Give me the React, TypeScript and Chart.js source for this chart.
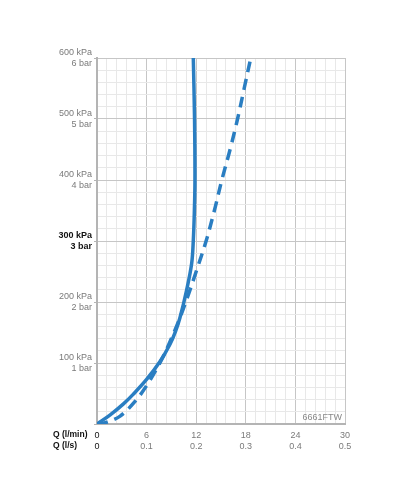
import React, { useEffect, useRef } from "react";
import { Chart, registerables } from "chart.js";

Chart.register(...registerables);

// Solid curve: Q (l/min) vs pressure (kPa)
const solidQ = [0, 1.6, 3.2, 4.4, 6.0, 7.6, 8.8, 9.5, 10.05, 10.85, 11.45, 11.65, 11.77, 11.85, 11.8, 11.65];
const solidP = [0, 15, 33, 49, 73, 102, 130, 152, 175, 220, 263, 301, 345, 400, 500, 600];

// Dashed curve
const dashQ = [0, 1.0, 2.8, 4.6, 6.1, 7.8, 8.8, 10.0, 11.0, 12.0, 13.2, 14.2, 15.1, 16.1, 17.0, 17.8, 18.6];
const dashP = [0, 2, 13, 37, 65, 105, 134, 173, 210, 250, 300, 350, 400, 450, 500, 550, 600];

// Tick labels
const xLpm = ["0", "6", "12", "18", "24", "30"];
const xLps = ["0", "0.1", "0.2", "0.3", "0.4", "0.5"];
const yKpa = ["", "100 kPa", "200 kPa", "300 kPa", "400 kPa", "500 kPa", "600 kPa"];
const yBar = ["", "1 bar", "2 bar", "3 bar", "4 bar", "5 bar", "6 bar"];

const X_MAX = 30;
const Y_MAX = 600;
const X_MINOR = 26; // 0..30 every 1.2
const Y_MINOR = 31; // 0..600 every 20

const FONT = "'Liberation Sans', Arial, sans-serif";
const BLUE = "#2a7ec2";
const GRAY = "#7a7a7a";

export default function App() {
  const ref = useRef<HTMLCanvasElement | null>(null);

  useEffect(() => {
    if (!ref.current) return;
    const toPts = (xs: number[], ys: number[]) => xs.map((x, i) => ({ x, y: ys[i] }));

    const overlay = {
      id: "overlay",
      afterDraw(chart: any) {
        const { ctx, chartArea } = chart;
        ctx.save();
        ctx.font = `bold 8.5px ${FONT}`;
        ctx.fillStyle = "#111";
        ctx.textAlign = "left";
        ctx.textBaseline = "middle";
        ctx.fillText("Q (l/min)", 53, chartArea.bottom + 11);
        ctx.fillText("Q (l/s)", 53, chartArea.bottom + 22);
        ctx.font = `9px ${FONT}`;
        ctx.fillStyle = "#888";
        ctx.textAlign = "right";
        ctx.fillText("6661FTW", chartArea.right - 3, chartArea.bottom - 6);
        ctx.restore();
      },
    };

    const chart = new Chart(ref.current, {
      type: "scatter",
      data: {
        datasets: [
          {
            data: toPts(solidQ, solidP),
            showLine: true,
            borderColor: BLUE,
            borderWidth: 3.5,
            pointRadius: 0,
            tension: 0.35,
          },
          {
            data: toPts(dashQ, dashP),
            showLine: true,
            borderColor: BLUE,
            borderWidth: 3.5,
            borderDash: [11, 7],
            pointRadius: 0,
            tension: 0.35,
          },
        ],
      },
      options: {
        animation: false,
        responsive: true,
        maintainAspectRatio: false,
        layout: { padding: { left: 0, right: 55, top: 58, bottom: 0 } },
        plugins: { legend: { display: false }, tooltip: { enabled: false } },
        scales: {
          x: {
            type: "linear",
            min: 0,
            max: X_MAX,
            afterBuildTicks: (scale: any) => {
              scale.ticks = Array.from({ length: X_MINOR }, (_, i) => ({ value: (i * X_MAX) / (X_MINOR - 1) }));
            },
            afterFit: (scale: any) => {
              scale.height = 76;
            },
            grid: {
              drawTicks: false,
              color: (c: any) => (c.index % 5 === 0 ? "#c6c6c6" : "#e8e8e8"),
              lineWidth: 1,
            },
            border: { color: "#b4b4b4", width: 2 },
            ticks: {
              autoSkip: false,
              maxRotation: 0,
              padding: 6,
              font: { size: 9, family: FONT, lineHeight: 1.2 },
              color: (c: any) => (c.index === 0 ? "#111" : GRAY),
              callback: (_v: any, i: number) => (i % 5 === 0 ? [xLpm[i / 5], xLps[i / 5]] : ""),
            },
          },
          y: {
            type: "linear",
            min: 0,
            max: Y_MAX,
            afterBuildTicks: (scale: any) => {
              scale.ticks = Array.from({ length: Y_MINOR }, (_, i) => ({ value: (i * Y_MAX) / (Y_MINOR - 1) }));
            },
            afterFit: (scale: any) => {
              scale.width = 97;
            },
            grid: {
              drawTicks: true,
              tickLength: 3,
              color: (c: any) => (c.index % 5 === 0 ? "#c6c6c6" : "#e8e8e8"),
              tickColor: (c: any) => (c.index % 5 === 0 ? "#b4b4b4" : "rgba(0,0,0,0)"),
              lineWidth: 1,
            },
            border: { color: "#b4b4b4", width: 2 },
            ticks: {
              autoSkip: false,
              padding: 2,
              font: (c: any) => ({
                size: 9,
                family: FONT,
                lineHeight: 1.25,
                weight: c.index === 15 ? "bold" : "normal",
              }),
              color: (c: any) => (c.index === 15 ? "#111" : GRAY),
              callback: (_v: any, i: number) =>
                i % 5 === 0 && i > 0 ? [yKpa[i / 5], yBar[i / 5]] : "",
            },
          },
        },
      },
      plugins: [overlay],
    } as any);

    return () => chart.destroy();
  }, []);

  return (
    <div style={{ position: "absolute", left: 0, top: 0, width: 400, height: 500, background: "#fff" }}>
      <canvas ref={ref} />
    </div>
  );
}
